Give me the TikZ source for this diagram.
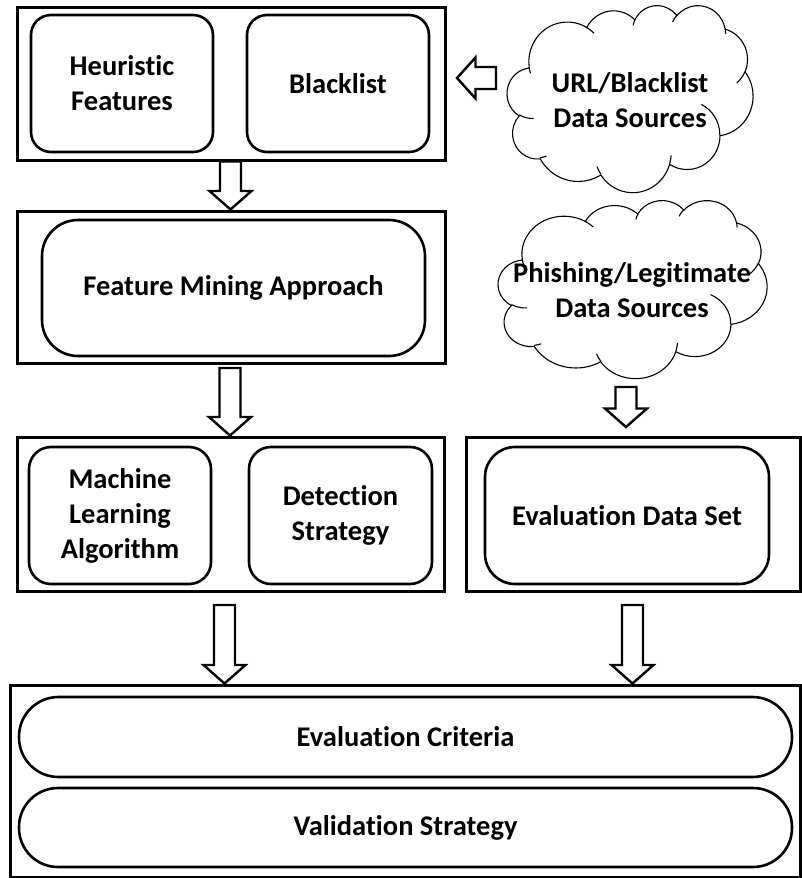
\documentclass[tikz,border=0pt]{standalone}
\usepackage{fontspec}
\setmainfont[Ligatures=NoCommon]{Carlito}
\usetikzlibrary{calc}
\newcommand\lbl{\bfseries\fontsize{28.5}{35}\selectfont}
\tikzset{
 outerbox/.style={draw, line width=3pt, inner sep=0pt},
 innerbox/.style={draw, line width=2.6pt, inner sep=0pt, align=center, font=\lbl},
 lbl/.style={align=center, font=\lbl, inner sep=0pt},
 blk/.style={draw, line width=2.4pt, fill=white, line join=miter, miter limit=10},
 cloudline/.style={line width=1.1pt}
}
\newcommand\cloudarc[4]{arc[x radius=#1, y radius=#2, start angle={atan2(#1*sin(#3),#2*cos(#3))}, delta angle={mod(atan2(#1*sin(#3+#4),#2*cos(#3+#4))-atan2(#1*sin(#3),#2*cos(#3))+720,360)}]}
\newcommand\officecloud[4]{%
\begin{scope}[shift={(#1,#2)},x=#3pt,y=-#4pt,cloudline]
\draw[fill=white] (39.00,143.70)
 \cloudarc{67.53}{91.90}{-190.4875}{123.7805}
 \cloudarc{53.33}{72.67}{-144.1024}{89.9452}
 \cloudarc{43.65}{59.45}{-145.8079}{99.7230}
 \cloudarc{48.57}{65.95}{-130.9861}{117.2417}
 \cloudarc{53.33}{72.73}{-78.7089}{109.0269}
 \cloudarc{67.75}{92.20}{-46.2673}{130.2690}
 \cloudarc{57.85}{78.67}{0.6250}{114.0333}
 \cloudarc{67.52}{92.15}{22.4516}{115.1726}
 \cloudarc{77.20}{105.43}{66.2426}{75.2187}
 \cloudarc{43.60}{59.18}{-274.9421}{146.7356}
 \cloudarc{43.45}{59.45}{-246.8285}{152.5189}
 -- cycle;
\draw (46.93,261.77) \cloudarc{43.45}{59.45}{86.7420}{26.4295}
 (69.28,348.99) \cloudarc{43.60}{59.18}{73.6105}{11.4475}
 (164.78,390.90) \cloudarc{67.52}{92.15}{137.6242}{14.0811}
 (288.27,347.51) \cloudarc{67.52}{92.15}{6.4533}{15.9984}
 (341.29,229.54) \cloudarc{57.85}{78.67}{-70.2924}{70.9174}
 (417.98,153.54) \cloudarc{53.33}{72.73}{30.3180}{27.7515}
 (383.24,54.26) \cloudarc{48.57}{65.95}{-13.7443}{14.8589}
 (290.78,39.52) \cloudarc{48.57}{65.95}{-149.1815}{18.1954}
 (221.41,47.20) \cloudarc{43.65}{59.45}{-163.4943}{17.6864}
 (140.00,51.92) \cloudarc{67.53}{91.90}{-66.7070}{12.3194}
 (41.27,157.89) \cloudarc{67.53}{91.90}{157.6544}{11.8582};
\end{scope}}
\newcommand\blkdown[2]{\draw[blk] let \p1=#1, \p2=#2 in (\x2-10.5pt,\y1) -- (\x2+10.5pt,\y1) -- (\x2+10.5pt,\y2+18.5pt) -- (\x2+21pt,\y2+18.5pt) -- (\x2,\y2) -- (\x2-21pt,\y2+18.5pt) -- (\x2-10.5pt,\y2+18.5pt) -- cycle;}
\newcommand\blkleft[2]{\draw[blk] let \p1=#1, \p2=#2 in (\x1,\y2+11pt) -- (\x1,\y2-11pt) -- (\x2+18.5pt,\y2-11pt) -- (\x2+18.5pt,\y2-20.5pt) -- (\x2,\y2) -- (\x2+18.5pt,\y2+20.5pt) -- (\x2+18.5pt,\y2+11pt) -- cycle;}
\begin{document}
\begin{tikzpicture}[x=1pt,y=-1pt]
\useasboundingbox (0,0) rectangle (801,878);
\fill[white] (0,0) rectangle (801,878);
% outer boxes
\node[outerbox, minimum width=428pt, minimum height=153pt] (box1) at (231,83.5) {};
\node[outerbox, minimum width=428pt, minimum height=152pt] (box2) at (231,287) {};
\node[outerbox, minimum width=427pt, minimum height=154pt] (box3) at (230.5,514) {};
\node[outerbox, minimum width=334pt, minimum height=154pt] (box4) at (633,514) {};
\node[outerbox, minimum width=790pt, minimum height=192pt] (box5) at (405,781) {};
% inner boxes
\node[innerbox, rounded corners=20pt, minimum width=182pt, minimum height=137pt] (heur) at (122,83.5) {Heuristic\\Features};
\node[innerbox, rounded corners=20pt, minimum width=182pt, minimum height=137pt] (black) at (338,83.5) {Blacklist};
\node[innerbox, rounded corners=36pt, minimum width=383pt, minimum height=136pt] (fma) at (233.5,288) {Feature Mining Approach};
\node[innerbox, rounded corners=22pt, minimum width=182pt, minimum height=137pt] (ml) at (120,515.5) {Machine\\Learning\\Algorithm};
\node[innerbox, rounded corners=22pt, minimum width=183pt, minimum height=137pt] (det) at (340.5,515.5) {Detection\\Strategy};
\node[innerbox, rounded corners=30pt, minimum width=284pt, minimum height=137pt] (eds) at (627,515.5) {Evaluation Data Set};
\node[innerbox, rounded corners=39.5pt, minimum width=773pt, minimum height=80pt] (ec) at (405.5,737) {Evaluation Criteria};
\node[innerbox, rounded corners=39pt, minimum width=773pt, minimum height=79pt] (vs) at (405.5,827.5) {Validation Strategy};
% clouds
\officecloud{507}{5}{0.5694}{0.4329}
\officecloud{498}{200}{0.6227}{0.4120}
\node[lbl] (src1) at (630,100) {URL/Blacklist\\Data Sources};
\node[lbl] (src2) at (632,290.5) {Phishing/Legitimate\\Data Sources};
% block arrows
\coordinate (a1) at (230.5,0);
\coordinate (a2) at (230,0);
\coordinate (a4) at (224.5,0);
\coordinate (a5) at (632.5,0);
\coordinate (a3t) at (626,387);
\coordinate (a3h) at (626,427);
\coordinate (lt) at (457,78);
\coordinate (lb) at (496,78);
\blkdown{(box1.south -| a1)}{(box2.north -| a1)}
\blkdown{($(box2.south -| a2)+(0,3.5)$)}{(box3.north -| a2)}
\blkdown{(a3t)}{(a3h)}
\blkdown{($(box3.south -| a4)+(0,12.5)$)}{(box5.north -| a4)}
\blkdown{($(box4.south -| a5)+(0,12.5)$)}{(box5.north -| a5)}
\blkleft{(lb)}{(lt)}
\end{tikzpicture}
\end{document}
